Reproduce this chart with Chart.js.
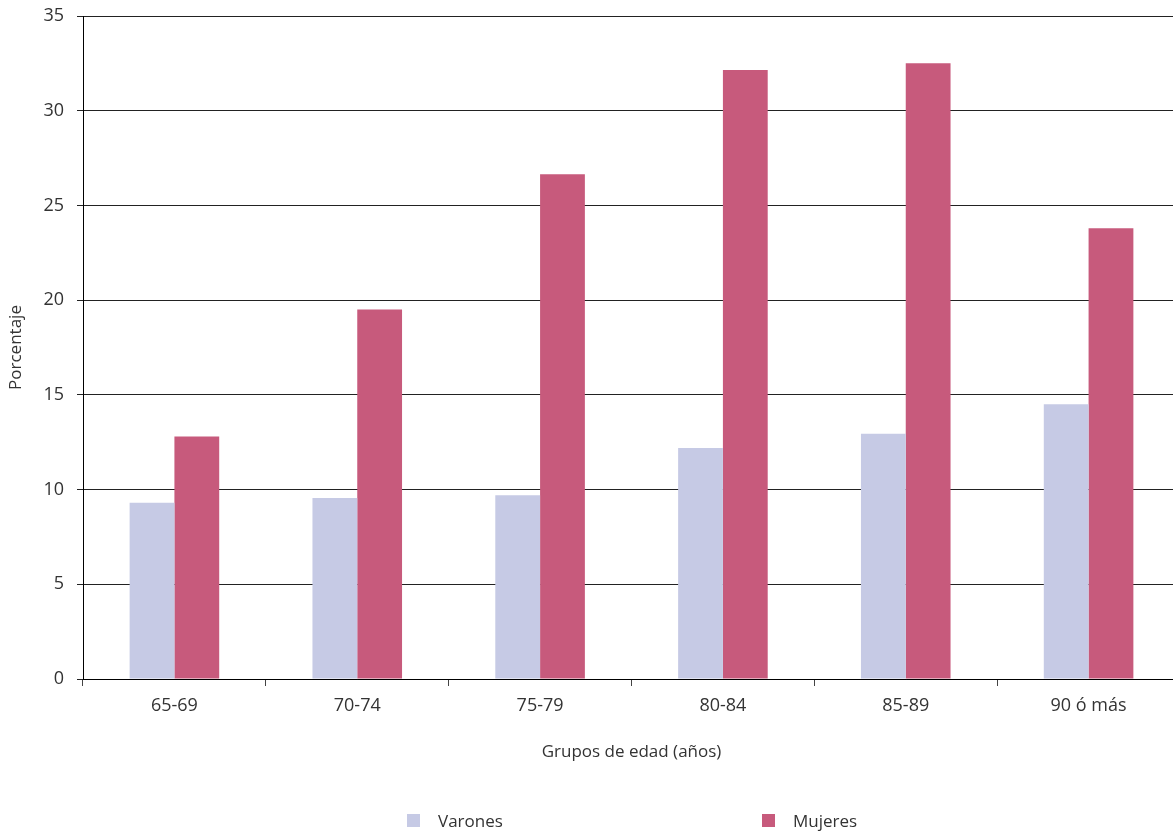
<!DOCTYPE html>
<html lang="es">
<head>
  <meta charset="UTF-8">
  <title>Porcentaje por grupos de edad</title>
  <script src="https://cdn.jsdelivr.net/npm/chart.js"></script>
  <style>
    html, body { margin: 0; padding: 0; background: #fff; overflow: hidden; }
    #contenedor { position: relative; width: 1180px; height: 836px; }
    #leyenda { position: absolute; left: 407px; top: 809px; display: flex; font-family: "Open Sans", sans-serif; font-size: 17px; color: #333; }
    .item { width: 355px; display: flex; align-items: center; }
    .cuadro { width: 13px; height: 13px; margin-right: 18px; }
  </style>
</head>
<body>

  <div id="contenedor">
    <canvas id="grafico" width="1180" height="836"></canvas>
    <div id="leyenda"></div>
  </div>

  <script>
    // Datos
    const grupos = ['65-69', '70-74', '75-79', '80-84', '85-89', '90 ó más'];
    const varones = [9.3, 9.55, 9.7, 12.2, 12.95, 14.5];
    const mujeres = [12.8, 19.5, 26.65, 32.15, 32.5, 23.8];
    const series = ['Varones', 'Mujeres'];
    const colores = ['#c6cae5', '#c75a7c'];

    const fuente = '"Open Sans", sans-serif';
    const texto = '#333';

    const ctx = document.getElementById('grafico').getContext('2d');
    const grafico = new Chart(ctx, {
      type: 'bar',
      data: {
        labels: grupos,
        datasets: [
          { label: series[0], data: varones, backgroundColor: colores[0], borderWidth: 0 },
          { label: series[1], data: mujeres, backgroundColor: colores[1], borderWidth: 0 }
        ]
      },
      options: {
        responsive: false,
        animation: false,
        layout: { padding: { top: 16, right: 0, bottom: 60, left: 0 } },
        datasets: { bar: { categoryPercentage: 0.49, barPercentage: 1.0 } },
        plugins: {
          legend: { display: false },
          tooltip: { enabled: false }
        },
        scales: {
          x: {
            grid: { display: true, drawOnChartArea: false, tickLength: 7, color: '#444' },
            border: { color: '#000', width: 1 },
            ticks: { padding: 9, color: texto, font: { family: fuente, size: 18 } },
            title: {
              display: true,
              text: 'Grupos de edad (años)',
              color: texto,
              font: { family: fuente, size: 17 },
              padding: { top: 0, bottom: 14 }
            },
            afterFit(scale) { scale.height = 97; }
          },
          y: {
            min: 0,
            max: 35,
            ticks: { stepSize: 5, padding: 13, color: texto, font: { family: fuente, size: 18 } },
            grid: { color: '#222', lineWidth: 1, tickLength: 6 },
            border: { color: '#000', width: 1 },
            title: {
              display: true,
              text: 'Porcentaje',
              color: texto,
              font: { family: fuente, size: 17 },
              padding: { top: 6, bottom: 0 }
            },
            afterFit(scale) {
              scale.width = 83;
              scale.paddingTop = 0;
              scale.paddingBottom = 0;
            }
          }
        }
      }
    });

    // Leyenda en HTML a partir de los datasets
    const leyenda = document.getElementById('leyenda');
    grafico.data.datasets.forEach(ds => {
      const item = document.createElement('div');
      item.className = 'item';
      const cuadro = document.createElement('span');
      cuadro.className = 'cuadro';
      cuadro.style.background = ds.backgroundColor;
      const etiqueta = document.createElement('span');
      etiqueta.textContent = ds.label;
      item.appendChild(cuadro);
      item.appendChild(etiqueta);
      leyenda.appendChild(item);
    });
  </script>

</body>
</html>
